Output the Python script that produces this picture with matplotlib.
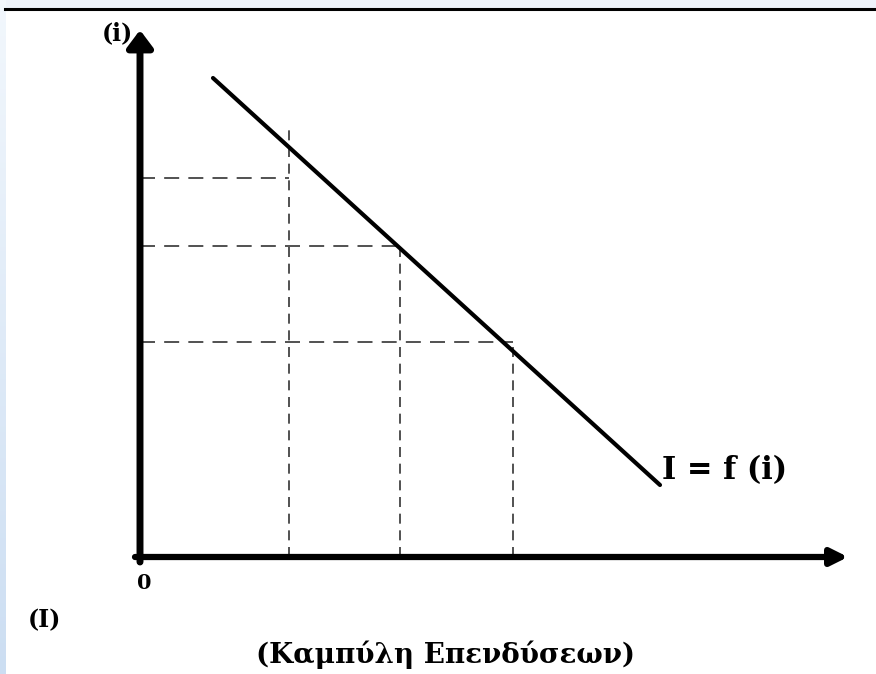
import matplotlib.pyplot as plt
import numpy as np
from matplotlib.patches import Rectangle

# investment curve I = f(i), in diagram units (origin at the axes corner)
curve_I = [0.73, 5.20]
curve_i = [4.79, 0.72]

# marked levels: investment on x, interest rate on y
levels_I = [1.49, 2.60, 3.73]
levels_i = [3.79, 3.11, 2.15]
vdash_top = [4.32, 3.11, 2.15]

x_end = 7.08
y_end = 5.27

wide_serif = ['DejaVu Serif', 'Liberation Serif']

fig = plt.figure(figsize=(8.76, 6.74), dpi=100)
ax = fig.add_axes([0, 0, 1, 1])
ax.set_xlim(-1.40, 7.36)
ax.set_ylim(-1.17, 5.57)
ax.axis('off')

# page decoration: pale band on top, blue gradient strip on the left, header rule
fig.patches.append(Rectangle((0, 0.987), 1, 0.013, transform=fig.transFigure,
                             color='#eef3fa', zorder=0))
t = np.linspace(0, 1, 674).reshape(-1, 1, 1) * np.ones((1, 6, 1))
top_c = np.array([0.95, 0.97, 0.99])
bot_c = np.array([0.80, 0.87, 0.95])
fig.figimage(top_c + (bot_c - top_c) * t, xo=0, yo=0, zorder=1)
fig.lines.append(plt.Line2D([0.006, 1], [0.987, 0.987], transform=fig.transFigure,
                            color='black', lw=2.2))

# dashed guides
for xv, yv in zip(levels_I, levels_i):
    ax.plot([0, xv], [yv, yv], color='#333333', lw=1.2, ls=(0, (9, 5.5)))
for xv, top in zip(levels_I, vdash_top):
    ax.plot([xv, xv], [0, top], color='#333333', lw=1.2, ls=(0, (6, 4)))

# the curve
ax.plot(curve_I, curve_i, color='black', lw=3.0, solid_capstyle='round')

# axes with arrows
ax.annotate('', xy=(x_end, 0), xytext=(-0.05, 0),
            arrowprops=dict(arrowstyle='-|>,head_length=1.0,head_width=0.5',
                            color='black', lw=4.5, shrinkA=0, shrinkB=0))
ax.annotate('', xy=(0, y_end), xytext=(0, -0.05),
            arrowprops=dict(arrowstyle='-|>,head_length=0.6,head_width=0.45',
                            mutation_scale=17, color='black', lw=5.0,
                            shrinkA=0, shrinkB=0))

ax.text(-0.07, 5.24, '(i)', family=wide_serif, weight='bold', fontsize=17,
        ha='right', va='center')
ax.text(5.22, 0.86, 'I = f (i)', family=wide_serif, weight='bold', fontsize=22,
        ha='left', va='center')
ax.text(-0.03, -0.26, '0', family=wide_serif, weight='bold', fontsize=15,
        ha='left', va='center')
ax.text(-1.12, -0.63, '(I)', family=wide_serif, weight='bold', fontsize=17,
        ha='left', va='center')
ax.text(3.06, -0.98, '(Καμπύλη Επενδύσεων)', family=wide_serif, weight='bold',
        fontsize=20, ha='center', va='center')

fig.savefig('out.png', dpi=100)
